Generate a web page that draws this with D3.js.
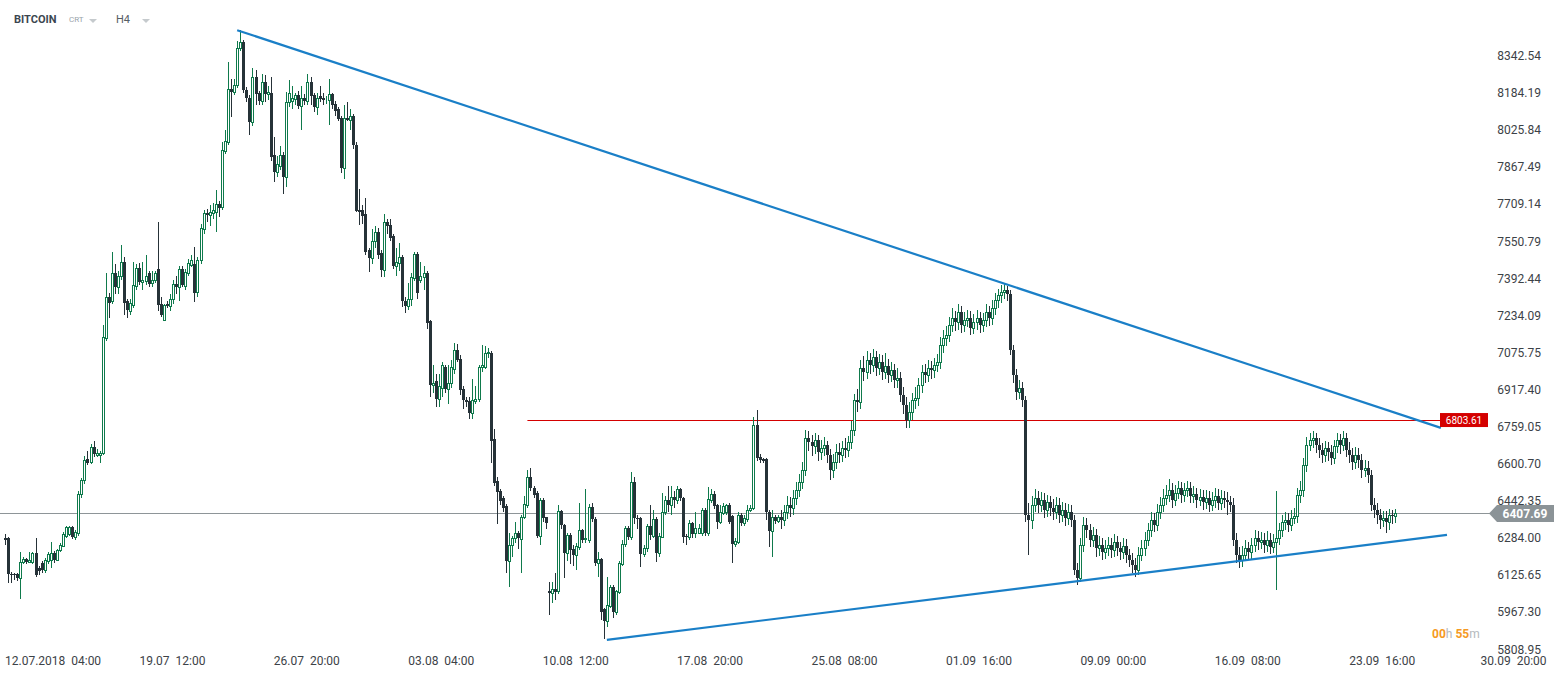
<!DOCTYPE html>
<html>
<head>
<meta charset="utf-8">
<script src="https://cdn.jsdelivr.net/npm/d3@7/dist/d3.min.js"></script>
<style>
  body { margin: 0; background: #fff; }
  svg { display: block; font-family: Roboto, "Noto Sans", sans-serif; }
</style>
</head>
<body>
<svg id="chart" width="1557" height="679"></svg>
<script>
// BITCOIN H4 candles, one entry per 4h bar (index 0 = 12.07.2018 04:00)
const opens = [
  6300,6300,6146,6146,6148,6128,6199,6210,6199,6199,
  6235,6170,6195,6164,6200,6206,6237,6206,6248,6266,
  6310,6317,6346,6306,6323,6488,6548,6636,6626,6688,
  6653,6655,6664,7153,7330,7310,7433,7370,7419,7480,
  7310,7270,7295,7374,7452,7395,7398,7430,7390,7400,
  7447,7300,7232,7300,7290,7320,7384,7372,7447,7378,
  7430,7466,7469,7349,7487,7620,7687,7680,7687,7693,
  7726,7715,7953,7990,8217,8206,8234,8394,8417,8212,
  8178,8078,8270,8200,8165,8245,8195,8200,7935,7864,
  7890,7935,7840,8160,8165,8175,8190,8145,8180,8165,
  8245,8190,8140,8185,8178,8170,8170,8195,8155,8130,
  8095,7880,8095,8085,8100,7980,7700,7700,7683,7530,
  7494,7568,7605,7515,7444,7648,7638,7590,7462,7475,
  7500,7310,7290,7320,7408,7513,7400,7415,7430,7225,
  6953,6970,6892,6940,7030,6935,6960,7020,7103,7063,
  6935,6890,6885,6832,6885,6892,7030,7030,7088,7088,
  6722,6545,6500,6470,6435,6203,6268,6300,6320,6296,
  6389,6441,6559,6515,6490,6309,6462,6389,6074,6064,
  6081,6075,6417,6356,6235,6313,6255,6228,6263,6334,
  6294,6292,6432,6381,6192,6209,5996,5947,6010,6092,
  5985,6071,6189,6275,6342,6303,6537,6384,6384,6232,
  6256,6351,6309,6381,6237,6303,6410,6462,6441,6476,
  6462,6508,6470,6310,6306,6363,6320,6323,6323,6420,
  6320,6462,6488,6441,6370,6406,6410,6441,6394,6273,
  6284,6398,6365,6380,6420,6427,6783,6647,6636,6636,
  6413,6331,6391,6374,6391,6377,6411,6441,6428,6471,
  6505,6539,6590,6727,6710,6693,6719,6667,6684,6697,
  6655,6590,6625,6667,6655,6684,6676,6710,6761,6889,
  6881,7026,7009,7060,7039,7073,7026,7052,7009,7035,
  6996,7018,6975,6983,6911,6868,6804,6838,6889,6898,
  6953,7009,6996,7026,7018,7039,7052,7124,7154,7167,
  7210,7240,7222,7265,7210,7231,7240,7197,7222,7240,
  7210,7231,7265,7240,7282,7316,7338,7351,7359,7342,
  7103,6996,6924,6941,6889,6398,6377,6441,6471,6441,
  6462,6420,6454,6428,6411,6441,6398,6420,6386,6411,
  6377,6164,6129,6270,6356,6334,6292,6313,6257,6270,
  6240,6257,6270,6249,6283,6257,6240,6266,6228,6206,
  6185,6164,6228,6257,6292,6334,6377,6356,6411,6441,
  6471,6484,6505,6462,6492,6514,6484,6505,6514,6480,
  6488,6462,6475,6454,6471,6441,6462,6480,6450,6471,
  6462,6454,6441,6292,6228,6206,6228,6257,6240,6270,
  6300,6283,6292,6270,6292,6262,6283,6300,6334,6368,
  6377,6356,6386,6394,6484,6505,6612,6697,6719,6727,
  6697,6676,6655,6684,6667,6642,6693,6719,6697,6727,
  6676,6655,6625,6655,6633,6590,6599,6569,6441,6420,
  6398,6377,6386,6368,6398,6394
];
const highs = [
  6317,6305,6155,6150,6150,6241,6220,6215,6241,6240,
  6300,6180,6200,6215,6240,6285,6245,6255,6280,6325,
  6352,6350,6350,6335,6500,6555,6650,6670,6700,6715,
  6680,6670,7210,7430,7345,7520,7470,7440,7550,7500,
  7320,7320,7480,7470,7475,7480,7510,7440,7440,7440,
  7650,7330,7300,7310,7340,7400,7420,7460,7460,7450,
  7490,7510,7544,7500,7640,7700,7705,7720,7730,7786,
  7740,7990,8040,8334,8260,8260,8420,8468,8425,8225,
  8190,8308,8300,8210,8280,8275,8230,8267,8014,7930,
  7975,7950,8206,8256,8230,8200,8210,8230,8195,8280,
  8270,8200,8200,8230,8200,8185,8260,8200,8165,8140,
  8100,8150,8160,8130,8110,7990,7790,7720,7750,7540,
  7618,7630,7625,7530,7685,7660,7660,7600,7540,7560,
  7510,7330,7390,7430,7520,7520,7480,7460,7440,7230,
  7040,7000,7000,7050,7040,7040,7060,7131,7130,7080,
  6950,6900,6900,6980,6950,7040,7124,7120,7110,7100,
  6764,6560,6510,6480,6445,6320,6310,6370,6330,6400,
  6480,6590,6600,6520,6500,6470,6470,6390,6114,6114,
  6150,6440,6420,6360,6320,6320,6270,6280,6448,6340,
  6508,6445,6448,6390,6240,6215,6000,6132,6100,6100,
  6080,6200,6290,6350,6350,6583,6560,6400,6390,6270,
  6360,6441,6420,6390,6320,6491,6480,6522,6522,6500,
  6520,6515,6475,6315,6375,6370,6413,6360,6430,6430,
  6517,6510,6500,6445,6440,6450,6445,6450,6400,6300,
  6410,6405,6400,6440,6440,6818,6847,6660,6640,6640,
  6420,6420,6400,6400,6420,6440,6480,6475,6505,6540,
  6575,6625,6760,6755,6740,6750,6740,6720,6730,6715,
  6680,6660,6700,6705,6715,6725,6735,6800,6915,6935,
  7060,7075,7100,7090,7105,7100,7085,7080,7090,7065,
  7050,7045,7025,7010,6945,6900,6880,6920,6945,6985,
  7040,7045,7060,7055,7070,7085,7160,7190,7205,7245,
  7280,7270,7300,7290,7265,7275,7270,7255,7275,7265,
  7260,7300,7290,7315,7345,7365,7380,7385,7375,7360,
  7125,7020,6975,6965,6905,6450,6480,6510,6500,6495,
  6490,6485,6480,6465,6475,6470,6455,6450,6445,6440,
  6400,6195,6300,6390,6385,6360,6345,6340,6310,6300,
  6290,6305,6300,6315,6310,6285,6300,6295,6255,6235,
  6215,6260,6290,6325,6365,6410,6405,6445,6475,6510,
  6525,6550,6535,6525,6545,6540,6535,6545,6540,6520,
  6515,6510,6505,6505,6500,6495,6515,6510,6505,6500,
  6495,6480,6470,6320,6260,6265,6290,6285,6300,6335,
  6330,6325,6320,6330,6320,6315,6500,6365,6400,6410,
  6405,6420,6430,6515,6545,6640,6730,6750,6755,6750,
  6725,6705,6715,6710,6695,6720,6750,6745,6755,6750,
  6710,6685,6690,6685,6660,6635,6630,6590,6470,6450,
  6425,6415,6415,6425,6420,6425
];
const lows = [
  6270,6107,6107,6120,6118,6038,6190,6190,6195,6190,
  6132,6140,6150,6150,6190,6172,6195,6200,6240,6260,
  6300,6310,6295,6290,6310,6470,6530,6610,6615,6645,
  6645,6620,6655,7140,7240,7300,7340,7340,7400,7250,
  7240,7250,7280,7360,7380,7360,7380,7370,7370,7390,
  7270,7245,7225,7280,7270,7300,7340,7310,7370,7360,
  7420,7455,7309,7330,7470,7600,7650,7630,7660,7608,
  7672,7700,7940,7980,8099,8190,8220,8380,8200,8160,
  8021,8060,8150,8150,8150,8160,8170,7910,7822,7840,
  7870,7768,7800,8140,8130,8150,8130,8042,8150,8150,
  8150,8120,8106,8160,8150,8155,8064,8130,8100,8080,
  7860,7832,8080,8040,7960,7690,7637,7640,7510,7437,
  7470,7540,7490,7413,7413,7600,7570,7450,7420,7440,
  7285,7260,7275,7290,7399,7320,7390,7360,7191,6903,
  6920,6858,6860,6900,6920,6870,6940,7000,7050,6910,
  6850,6860,6810,6807,6870,6880,7010,7020,7070,6620,
  6520,6360,6440,6410,6150,6090,6220,6280,6252,6150,
  6380,6430,6500,6470,6300,6270,6370,6340,5971,6021,
  6035,6060,6340,6128,6200,6190,6180,6164,6250,6280,
  6280,6280,6370,6180,6135,5950,5868,5921,6000,5960,
  5970,6060,6180,6260,6290,6290,6360,6340,6178,6220,
  6240,6292,6300,6199,6220,6300,6400,6410,6400,6430,
  6445,6460,6278,6270,6290,6300,6300,6315,6310,6310,
  6310,6450,6425,6340,6360,6400,6400,6360,6192,6260,
  6275,6350,6350,6370,6410,6420,6630,6620,6620,6377,
  6263,6220,6360,6365,6340,6350,6380,6390,6400,6440,
  6475,6510,6565,6670,6650,6660,6630,6635,6650,6620,
  6548,6555,6595,6620,6625,6640,6645,6680,6735,6840,
  6850,6970,6980,7000,7010,6990,6995,6975,6980,6960,
  6965,6940,6940,6880,6830,6770,6770,6805,6850,6865,
  6920,6960,6965,6980,6985,7010,7020,7090,7120,7135,
  7180,7185,7190,7175,7180,7200,7165,7170,7190,7175,
  7180,7200,7205,7210,7250,7280,7305,7320,7310,7080,
  6960,6890,6895,6860,6370,6228,6340,6410,6405,6410,
  6385,6390,6395,6375,6380,6365,6370,6350,6355,6345,
  6140,6100,6110,6240,6300,6260,6260,6220,6225,6205,
  6210,6225,6215,6220,6225,6205,6210,6195,6175,6150,
  6133,6140,6200,6225,6265,6305,6325,6330,6380,6410,
  6440,6455,6430,6435,6465,6450,6455,6475,6450,6450,
  6430,6435,6420,6425,6410,6415,6430,6420,6420,6430,
  6400,6410,6265,6195,6170,6175,6200,6205,6210,6240,
  6250,6255,6235,6240,6230,6235,6078,6270,6305,6335,
  6325,6330,6360,6365,6450,6475,6580,6670,6685,6665,
  6640,6620,6625,6630,6610,6615,6665,6660,6670,6645,
  6620,6590,6595,6600,6555,6560,6535,6415,6385,6360,
  6340,6345,6320,6335,6360,6365
];
const closes = [
  6290,6146,6140,6142,6128,6199,6210,6199,6207,6235,
  6142,6160,6164,6206,6232,6235,6206,6248,6270,6317,
  6346,6346,6304,6327,6488,6548,6633,6622,6688,6659,
  6664,6664,7160,7330,7305,7433,7370,7419,7480,7302,
  7274,7302,7381,7452,7395,7400,7420,7385,7400,7433,
  7294,7250,7295,7290,7320,7384,7372,7447,7380,7435,
  7473,7487,7345,7487,7623,7687,7680,7690,7701,7726,
  7711,7957,7995,8217,8206,8234,8394,8417,8212,8178,
  8078,8270,8195,8165,8245,8195,8205,7928,7864,7895,
  7935,7843,8160,8200,8180,8190,8145,8180,8165,8245,
  8185,8140,8180,8175,8170,8172,8195,8150,8125,8090,
  7880,8095,8085,8100,7978,7698,7692,7676,7523,7494,
  7568,7605,7509,7444,7648,7630,7580,7462,7480,7500,
  7310,7290,7320,7413,7513,7345,7420,7430,7220,6953,
  6963,6892,6950,7040,6935,6960,7030,7103,7060,6930,
  6890,6880,6832,6890,6895,7030,7040,7088,7095,6716,
  6536,6498,6460,6427,6203,6270,6300,6320,6300,6391,
  6445,6559,6512,6484,6309,6462,6384,6363,6064,6081,
  6071,6417,6356,6235,6313,6249,6228,6266,6334,6292,
  6298,6432,6381,6192,6209,5985,5947,6014,6092,5985,
  6075,6192,6275,6342,6303,6537,6384,6380,6232,6256,
  6351,6313,6381,6237,6309,6413,6462,6441,6476,6462,
  6508,6470,6306,6303,6363,6317,6342,6344,6420,6323,
  6465,6488,6437,6370,6409,6437,6441,6370,6273,6289,
  6398,6365,6384,6420,6427,6783,6640,6633,6629,6413,
  6331,6391,6374,6391,6377,6411,6441,6428,6471,6505,
  6539,6590,6727,6710,6693,6719,6667,6684,6697,6655,
  6590,6625,6667,6655,6684,6676,6710,6761,6889,6881,
  7026,7009,7060,7039,7073,7026,7052,7009,7035,6996,
  7018,6975,6983,6911,6868,6804,6838,6889,6898,6953,
  7009,6996,7026,7018,7039,7052,7124,7154,7167,7210,
  7240,7222,7265,7210,7231,7240,7197,7222,7240,7210,
  7231,7265,7240,7282,7316,7338,7351,7359,7342,7103,
  6996,6924,6941,6889,6398,6377,6441,6471,6441,6462,
  6420,6454,6428,6411,6441,6398,6420,6386,6411,6377,
  6164,6129,6270,6356,6334,6292,6313,6257,6270,6240,
  6257,6270,6249,6283,6257,6240,6266,6228,6206,6185,
  6164,6228,6257,6292,6334,6377,6356,6411,6441,6471,
  6484,6505,6462,6492,6514,6484,6505,6514,6480,6488,
  6462,6475,6454,6471,6441,6462,6480,6450,6471,6462,
  6454,6441,6292,6228,6206,6228,6257,6240,6270,6300,
  6283,6292,6270,6292,6262,6283,6300,6334,6368,6377,
  6356,6386,6394,6484,6505,6612,6697,6719,6727,6697,
  6676,6655,6684,6667,6642,6693,6719,6697,6727,6676,
  6655,6625,6655,6633,6590,6599,6569,6441,6420,6398,
  6377,6386,6368,6398,6394,6407.69
];

// axis ticks
const yTicks = [5808.95,5967.30,6125.65,6284.00,6442.35,6600.70,6759.05,6917.40,
                7075.75,7234.09,7392.44,7550.79,7709.14,7867.49,8025.84,8184.19,8342.54];
const xTickIdx = [0,44,88,132,176,220,264,308,352,396,440,483];
const xTickLabels = ["12.07.2018  04:00","19.07  12:00","26.07  20:00","03.08  04:00",
  "10.08  12:00","17.08  20:00","25.08  08:00","01.09  16:00","09.09  00:00",
  "16.09  08:00","23.09  16:00","30.09  20:00"];

// drawn objects (bar index, price)
const upperTrend = [[76, 8468], [470, 6770]];
const lowerTrend = [[197, 5865], [472, 6313]];
const resistance = { from: 171, to: 470, price: 6803.61 };
const lastPrice = 6407.69;

const svg = d3.select("#chart");
const x = d3.scaleLinear().domain([0, 483]).range([5, 1480.6]);
const y = d3.scaleLinear().domain([5808.95, 8342.54]).range([653, 59.6]);

const GREEN = "#0f7a4c", DARK = "#263238", BLUE = "#1a7fc7";

const candles = closes.map((c, i) => ({ i, o: opens[i], h: highs[i], l: lows[i], c }));
const cx = d => Math.round(x(d.i));

// header
const head = svg.append("g");
head.append("text").attr("x", 14).attr("y", 23).attr("font-size", 11).attr("font-weight", 700)
  .attr("fill", "#3b4650").text("BITCOIN");
head.append("text").attr("x", 69).attr("y", 22).attr("font-size", 8).attr("fill", "#9aa3aa").text("CRT");
head.append("path").attr("d", "M89,19 L97,19 L93,23 Z").attr("fill", "#c5cacd");
head.append("text").attr("x", 116).attr("y", 23).attr("font-size", 11).attr("fill", "#555d63").text("H4");
head.append("path").attr("d", "M142,19 L150,19 L146,23 Z").attr("fill", "#c5cacd");

// current price line
svg.append("line").attr("x1", 0).attr("x2", 1490)
  .attr("y1", Math.round(y(lastPrice)) + 0.5).attr("y2", Math.round(y(lastPrice)) + 0.5)
  .attr("stroke", "#8e9598").attr("stroke-width", 1);

// resistance line
svg.append("line").attr("x1", x(resistance.from)).attr("x2", x(resistance.to))
  .attr("y1", Math.round(y(resistance.price)) + 0.5).attr("y2", Math.round(y(resistance.price)) + 0.5)
  .attr("stroke", "#d40000").attr("stroke-width", 1);

// candles
const cg = svg.append("g").attr("shape-rendering", "crispEdges");
const isUp = d => d.c >= d.o;

cg.selectAll("line.wick-dn").data(candles.filter(d => !isUp(d))).join("line")
  .attr("x1", d => cx(d) + 0.5).attr("x2", d => cx(d) + 0.5)
  .attr("y1", d => y(d.h)).attr("y2", d => y(d.l))
  .attr("stroke", DARK).attr("stroke-width", 1);

cg.selectAll("rect.body-dn").data(candles.filter(d => !isUp(d))).join("rect")
  .attr("x", d => cx(d) - 1).attr("width", 3)
  .attr("y", d => Math.round(y(d.o)))
  .attr("height", d => Math.max(1, Math.round(y(d.c)) - Math.round(y(d.o))))
  .attr("fill", DARK);

const upC = candles.filter(isUp);
cg.selectAll("line.wick-up-h").data(upC).join("line")
  .attr("x1", d => cx(d) + 0.5).attr("x2", d => cx(d) + 0.5)
  .attr("y1", d => y(d.h)).attr("y2", d => Math.round(y(d.c)) + 0.5)
  .attr("stroke", GREEN).attr("stroke-width", 1);
cg.selectAll("line.wick-up-l").data(upC).join("line")
  .attr("x1", d => cx(d) + 0.5).attr("x2", d => cx(d) + 0.5)
  .attr("y1", d => Math.round(y(d.o)) + 0.5).attr("y2", d => y(d.l))
  .attr("stroke", GREEN).attr("stroke-width", 1);
cg.selectAll("rect.body-up").data(upC).join("rect")
  .attr("x", d => cx(d) - 0.5).attr("width", 2)
  .attr("y", d => Math.round(y(d.c)) + 0.5)
  .attr("height", d => Math.max(0, Math.round(y(d.o)) - Math.round(y(d.c))))
  .attr("fill", "#fff").attr("stroke", GREEN).attr("stroke-width", 1);

// trend lines
const line = d3.line().x(d => x(d[0])).y(d => y(d[1]));
svg.append("path").attr("d", line(upperTrend)).attr("fill", "none")
  .attr("stroke", BLUE).attr("stroke-width", 2.2);
svg.append("path").attr("d", line(lowerTrend)).attr("fill", "none")
  .attr("stroke", BLUE).attr("stroke-width", 2.2);

// y axis labels
svg.append("g").selectAll("text").data(yTicks).join("text")
  .attr("x", 1541).attr("y", d => y(d) + 0.5)
  .attr("text-anchor", "end").attr("font-size", 12).attr("fill", "#3c4247")
  .text(d => d.toFixed(2));

// x axis labels
svg.append("g").selectAll("text").data(xTickIdx).join("text")
  .attr("x", d => x(d)).attr("y", 665)
  .attr("font-size", 12).attr("fill", "#3c4247")
  .style("white-space", "pre")
  .text((d, k) => xTickLabels[k]);

// resistance tag
const ry = y(resistance.price);
svg.append("rect").attr("x", 1440).attr("y", ry - 7).attr("width", 48).attr("height", 14)
  .attr("fill", "#d40000");
svg.append("text").attr("x", 1464).attr("y", ry + 3.5).attr("text-anchor", "middle")
  .attr("font-size", 10).attr("fill", "#fff").text(resistance.price.toFixed(2));

// last price tag
const ly = Math.round(y(lastPrice)) + 0.5;
svg.append("path")
  .attr("d", `M1489,${ly} L1497,${ly - 8.5} L1554,${ly - 8.5} L1554,${ly + 8.5} L1497,${ly + 8.5} Z`)
  .attr("fill", "#8b9397");
svg.append("text").attr("x", 1525).attr("y", ly + 4.5).attr("text-anchor", "middle")
  .attr("font-size", 12).attr("font-weight", 700).attr("fill", "#fff").text(lastPrice.toFixed(2));

// candle countdown
const timer = svg.append("text").attr("x", 1432).attr("y", 638).attr("font-size", 12);
timer.append("tspan").attr("fill", "#f59a23").attr("font-weight", 700).text("00");
timer.append("tspan").attr("fill", "#b4b9bd").text("h ");
timer.append("tspan").attr("fill", "#f59a23").attr("font-weight", 700).text("55");
timer.append("tspan").attr("fill", "#b4b9bd").text("m");
</script>
</body>
</html>
